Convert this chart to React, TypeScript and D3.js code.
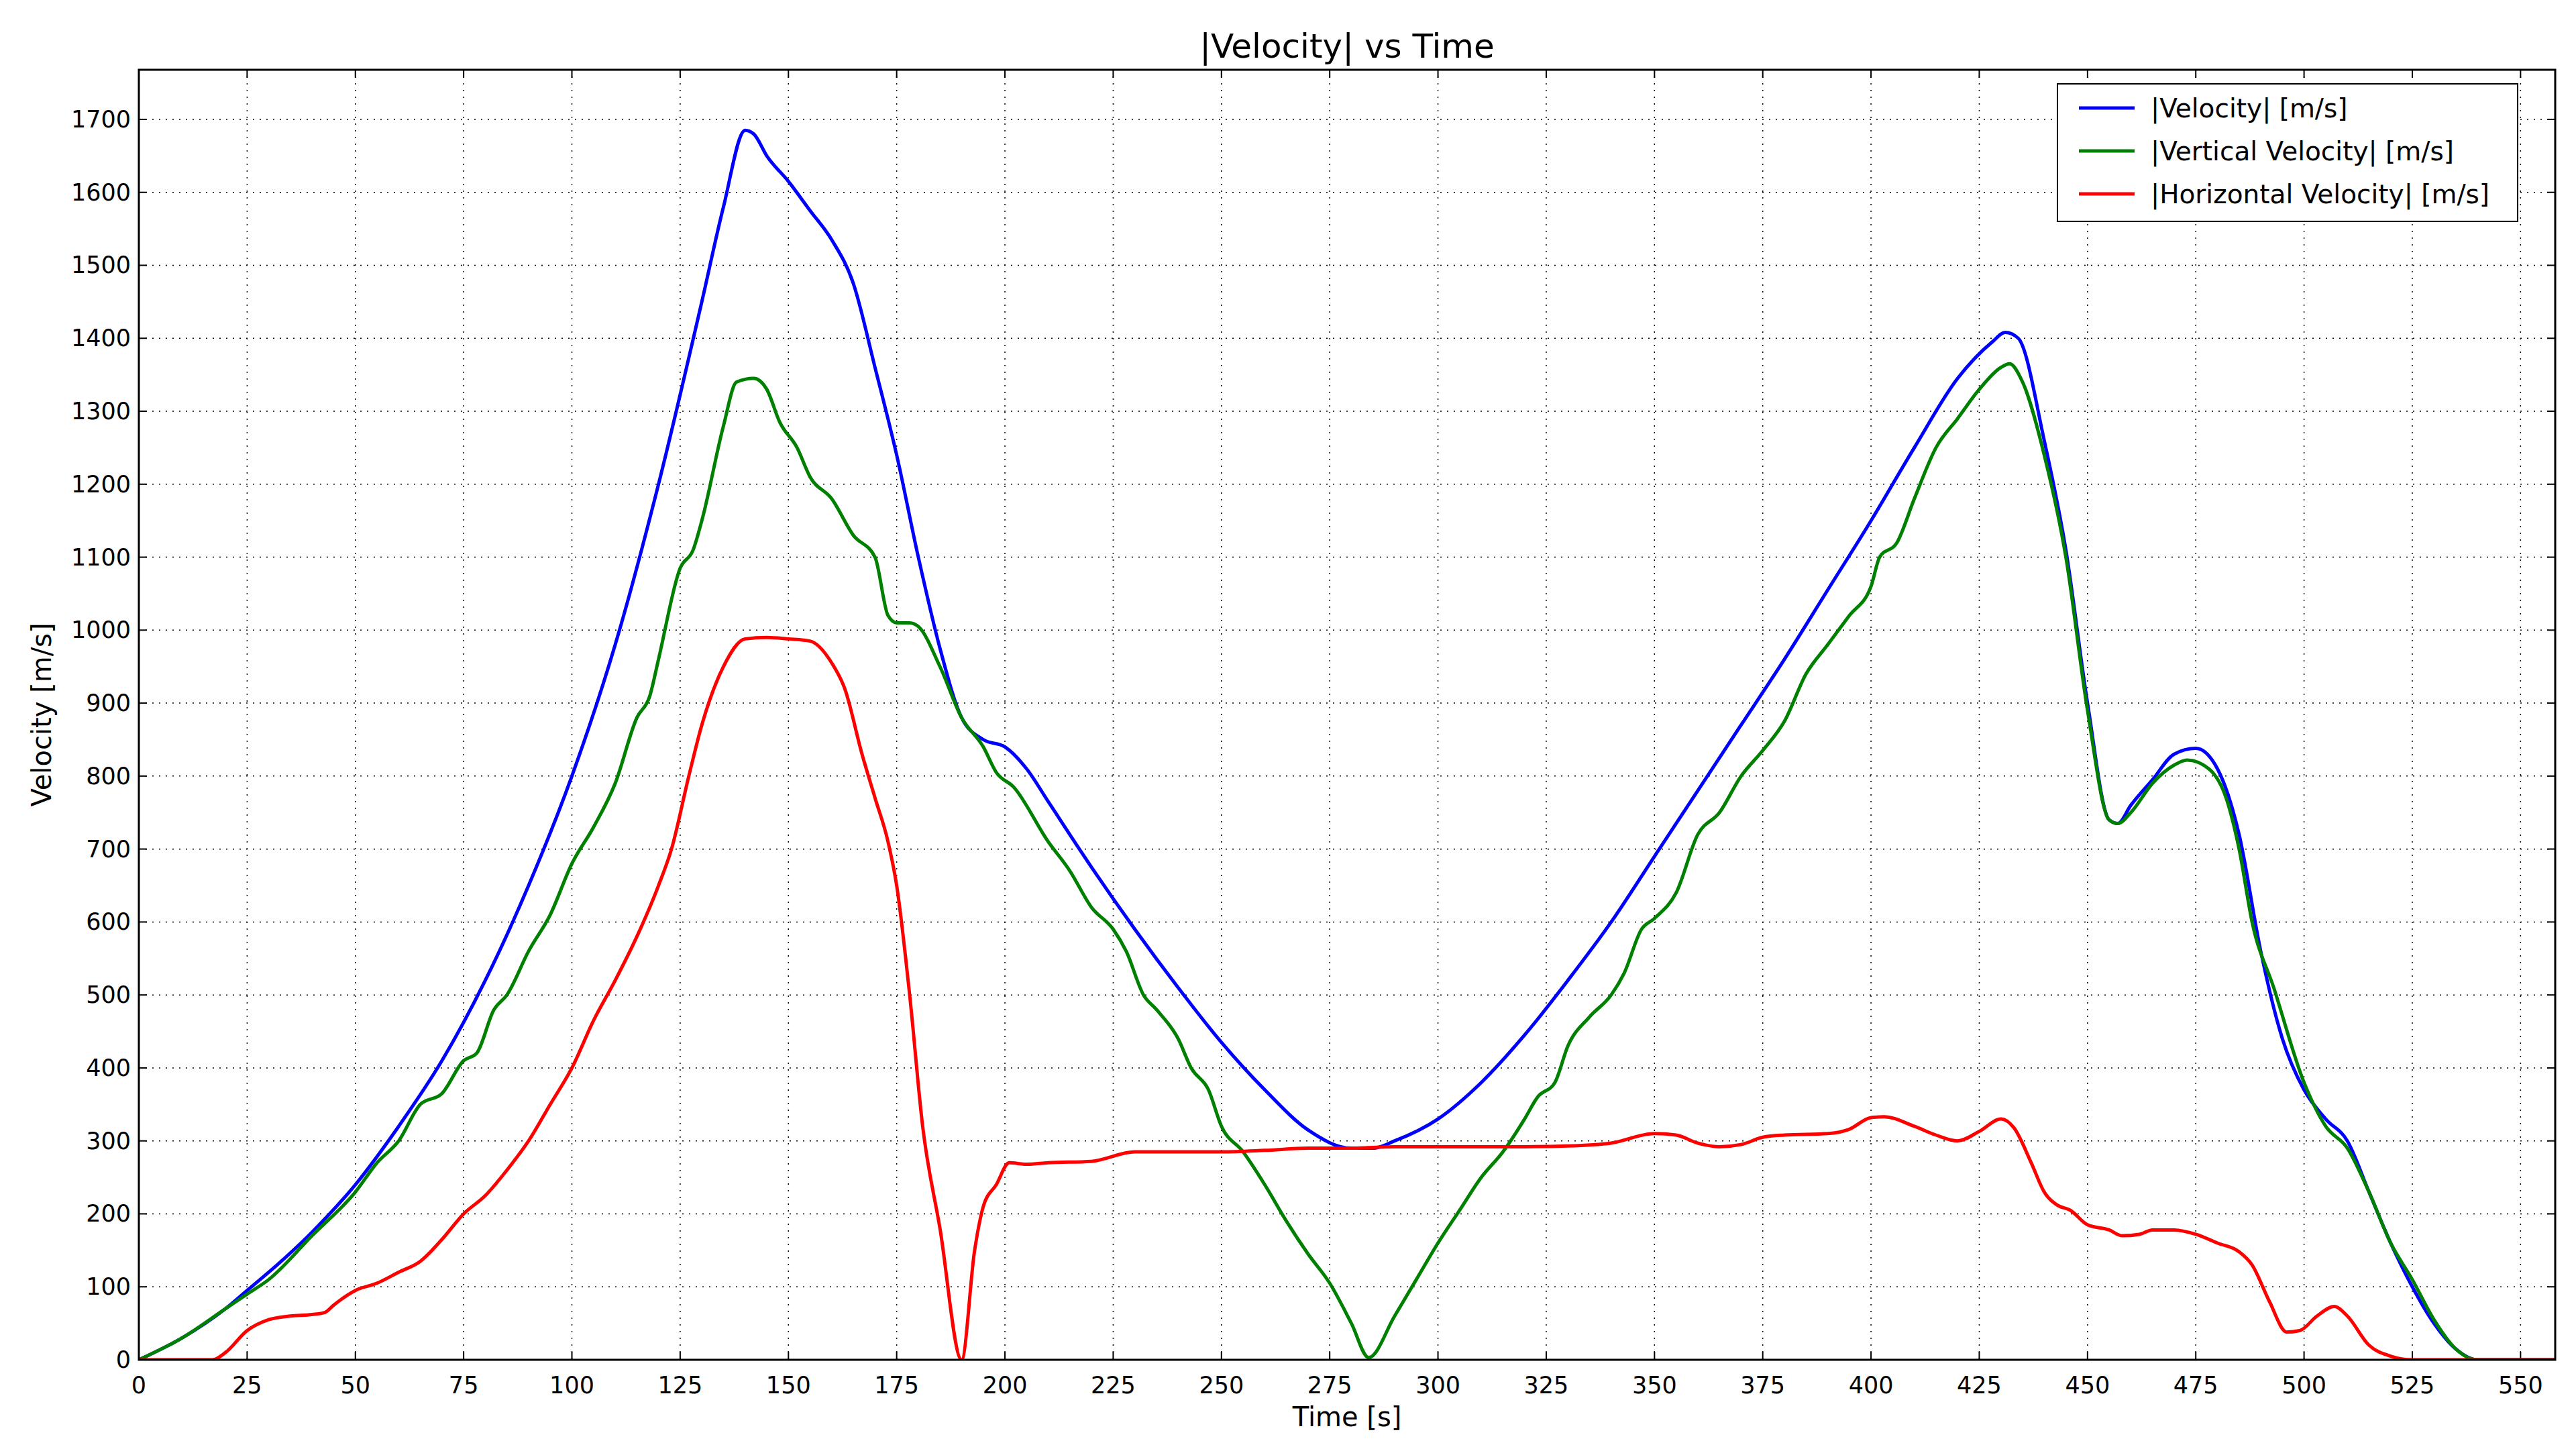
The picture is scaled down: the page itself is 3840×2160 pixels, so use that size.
import * as d3 from "d3";

const W = 3840;
const H = 2160;
const M = { left: 199, right: 3801, top: 96, bottom: 2019 };

const TITLE = "|Velocity| vs Time";
const X_LABEL = "Time [s]";
const Y_LABEL = "Velocity [m/s]";
const X_TICKS = d3.range(0, 551, 25);
const Y_TICKS = d3.range(0, 1701, 100);

// [t, value] pairs
const velocity: [number, number][] = [
  [0, 0], [10, 30], [20, 70], [25, 95], [30, 120], [40, 175], [50, 240], [60, 320], [70, 410],
  [80, 520], [90, 650], [100, 800], [110, 980], [120, 1200], [130, 1450], [135, 1580], [140, 1685],
  [142, 1680], [145, 1650], [150, 1615], [155, 1575], [160, 1535], [165, 1475], [170, 1360],
  [175, 1240], [180, 1100], [185, 975], [190, 880], [195, 850], [200, 840], [205, 810], [210, 765],
  [220, 675], [230, 590], [240, 510], [250, 435], [260, 370], [270, 315], [280, 290], [285, 290],
  [290, 300], [300, 330], [310, 380], [320, 445], [330, 520], [340, 600], [350, 690], [360, 780],
  [370, 870], [380, 960], [390, 1055], [400, 1150], [410, 1250], [420, 1345], [428, 1395],
  [431, 1408], [434, 1400], [440, 1260], [445, 1110], [450, 900], [455, 740], [457, 735],
  [460, 760], [465, 795], [470, 830], [475, 838], [480, 810], [485, 720], [490, 560], [495, 440],
  [500, 370], [505, 330], [510, 300], [515, 230], [520, 160], [525, 100], [530, 50], [535, 15],
  [540, 0], [558, 0],
];

const vertical: [number, number][] = [
  [0, 0], [10, 30], [20, 70], [25, 90], [30, 110], [40, 170], [50, 230], [55, 270], [60, 300],
  [65, 350], [70, 365], [75, 410], [78, 420], [82, 480], [85, 500], [90, 560], [95, 610],
  [100, 680], [105, 730], [110, 790], [115, 880], [118, 910], [120, 960], [125, 1085], [128, 1110],
  [130, 1150], [135, 1280], [138, 1340], [142, 1345], [145, 1330], [148, 1285], [152, 1250],
  [155, 1210], [160, 1180], [165, 1130], [170, 1100], [173, 1020], [175, 1010], [178, 1010],
  [180, 1005], [185, 950], [190, 880], [195, 840], [198, 805], [202, 785], [210, 710], [215, 670],
  [220, 620], [225, 590], [228, 560], [232, 500], [235, 480], [240, 440], [243, 400], [247, 370],
  [250, 320], [255, 285], [260, 240], [265, 190], [270, 145], [275, 105], [280, 50], [284, 3],
  [290, 60], [295, 110], [300, 160], [305, 205], [310, 250], [315, 285], [320, 330], [323, 360],
  [327, 380], [330, 430], [335, 470], [340, 500], [343, 530], [347, 590], [350, 605], [355, 640],
  [360, 720], [365, 750], [370, 800], [375, 835], [380, 875], [385, 940], [390, 980], [395, 1020],
  [400, 1060], [402, 1100], [406, 1120], [410, 1180], [415, 1250], [420, 1290], [425, 1330],
  [430, 1360], [432, 1365], [435, 1340], [440, 1240], [445, 1100], [450, 890], [455, 740],
  [457, 735], [460, 750], [465, 790], [470, 815], [473, 822], [478, 810], [482, 770], [485, 700],
  [488, 600], [493, 510], [500, 380], [505, 320], [510, 290], [515, 230], [520, 160], [525, 110],
  [530, 55], [535, 15], [540, 0], [558, 0],
];

const horizontal: [number, number][] = [
  [0, 0], [17, 0], [20, 10], [25, 40], [30, 55], [35, 60], [40, 62], [43, 65], [45, 75], [50, 95],
  [55, 105], [60, 120], [65, 135], [70, 165], [75, 200], [80, 225], [85, 260], [90, 300],
  [95, 350], [100, 400], [105, 465], [110, 520], [115, 580], [120, 650], [123, 700], [127, 800],
  [130, 870], [135, 950], [140, 988], [145, 990], [150, 988], [155, 985], [160, 955], [163, 920],
  [167, 830], [170, 770], [173, 710], [175, 650], [178, 500], [181, 320], [185, 180], [190, 0],
  [193, 150], [195, 210], [198, 240], [201, 270], [205, 268], [210, 270], [220, 272], [230, 285],
  [240, 285], [250, 285], [260, 287], [270, 290], [280, 290], [290, 292], [300, 292], [310, 292],
  [320, 292], [330, 293], [340, 297], [350, 310], [355, 308], [360, 297], [365, 292], [370, 295],
  [375, 305], [380, 308], [390, 310], [395, 316], [400, 332], [403, 333], [410, 320], [415, 308],
  [420, 300], [425, 313], [430, 330], [433, 318], [437, 270], [440, 230], [443, 212], [446, 205],
  [450, 185], [455, 178], [458, 170], [462, 172], [465, 178], [470, 178], [475, 172], [480, 160],
  [485, 148], [488, 130], [492, 80], [496, 38], [499, 40], [503, 60], [507, 73], [510, 60],
  [515, 20], [520, 5], [525, 0], [558, 0],
];

const SERIES = [
  { name: "|Velocity| [m/s]", data: velocity, color: "#0000ff" },
  { name: "|Vertical Velocity| [m/s]", data: vertical, color: "#008000" },
  { name: "|Horizontal Velocity| [m/s]", data: horizontal, color: "#ff0000" },
];

export default function App() {
  const x = d3.scaleLinear().domain([0, 558]).range([M.left, M.right]);
  const y = d3.scaleLinear().domain([0, 1768]).range([M.bottom, M.top]);
  const line = d3
    .line<[number, number]>()
    .x((d) => x(d[0]))
    .y((d) => y(d[1]))
    .curve(d3.curveMonotoneX);

  const font = "DejaVu Sans";
  return (
    <svg width={W} height={H} style={{ display: "block", fontFamily: font }}>
      <rect width={W} height={H} fill="#fff" />
      <defs>
        <clipPath id="plot">
          <rect x={M.left} y={M.top} width={M.right - M.left} height={M.bottom - M.top} />
        </clipPath>
      </defs>
      {X_TICKS.map((t) => (
        <g key={"x" + t}>
          <line x1={x(t)} x2={x(t)} y1={M.top} y2={M.bottom} stroke="#000" strokeWidth={1.5} strokeDasharray="2 8" />
          <line x1={x(t)} x2={x(t)} y1={M.bottom} y2={M.bottom - 12} stroke="#000" strokeWidth={2} />
          <line x1={x(t)} x2={x(t)} y1={M.top} y2={M.top + 12} stroke="#000" strokeWidth={2} />
          <text x={x(t)} y={M.bottom + 50} textAnchor="middle" fontSize={35}>{t}</text>
        </g>
      ))}
      {Y_TICKS.map((t) => (
        <g key={"y" + t}>
          <line x1={M.left} x2={M.right} y1={y(t)} y2={y(t)} stroke="#000" strokeWidth={1.5} strokeDasharray="2 8" />
          <line x1={M.left} x2={M.left + 12} y1={y(t)} y2={y(t)} stroke="#000" strokeWidth={2} />
          <line x1={M.right} x2={M.right - 12} y1={y(t)} y2={y(t)} stroke="#000" strokeWidth={2} />
          <text x={M.left - 12} y={y(t)} textAnchor="end" dominantBaseline="central" fontSize={35}>{t}</text>
        </g>
      ))}
      <g clipPath="url(#plot)">
        {SERIES.map((s) => (
          <path key={s.name} d={line(s.data) ?? ""} fill="none" stroke={s.color} strokeWidth={5} />
        ))}
      </g>
      <rect x={M.left} y={M.top} width={M.right - M.left} height={M.bottom - M.top} fill="none" stroke="#000" strokeWidth={3} />
      <text x={(M.left + M.right) / 2} y={78} textAnchor="middle" fontSize={50}>{TITLE}</text>
      <text x={(M.left + M.right) / 2} y={2118} textAnchor="middle" fontSize={40}>{X_LABEL}</text>
      <text transform={`translate(68, ${(M.top + M.bottom) / 2}) rotate(-90)`} textAnchor="middle" fontSize={40}>{Y_LABEL}</text>
      <g transform="translate(3059, 117)">
        <rect width={686} height={205} fill="#fff" stroke="#000" strokeWidth={2} />
        {SERIES.map((s, i) => (
          <g key={s.name} transform={`translate(0, ${36 + i * 64})`}>
            <line x1={32} x2={115} y1={0} y2={0} stroke={s.color} strokeWidth={5} />
            <text x={139} y={0} dominantBaseline="central" fontSize={39}>{s.name}</text>
          </g>
        ))}
      </g>
    </svg>
  );
}
